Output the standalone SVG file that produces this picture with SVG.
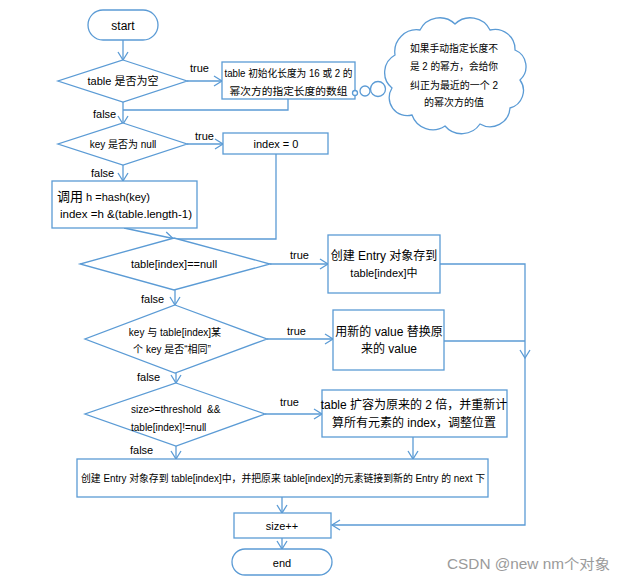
<svg xmlns="http://www.w3.org/2000/svg" width="625" height="581" viewBox="0 0 625 581">
<defs>
<style>
.n{fill:#fff;stroke:#5b9bd5;stroke-width:1.3}
.c{fill:none;stroke:#5b9bd5;stroke-width:1.3}
text{font-family:"Liberation Sans","Noto Sans CJK SC",sans-serif;fill:#000;font-size:11px}
.m{text-anchor:middle}
.l{font-size:11px}
</style>
<marker id="a" markerWidth="12" markerHeight="12" refX="10" refY="6" orient="auto" markerUnits="userSpaceOnUse">
<polyline points="2,1 10,6 2,11" fill="none" stroke="#5b9bd5" stroke-width="1.3"/>
</marker>
</defs>
<rect width="625" height="581" fill="#fff"/>
<g id="connectors">
<path class="c" d="M123,40 V60" marker-end="url(#a)"/>
<path class="c" d="M187,81 H222" marker-end="url(#a)"/>
<path class="c" d="M123,102 V124" marker-end="url(#a)"/>
<path class="c" d="M288,99 V110 H123"/>
<path class="c" d="M187,144 H223" marker-end="url(#a)"/>
<path class="c" d="M123,165 V181" marker-end="url(#a)"/>
<path class="c" d="M124,228 L173,238.5" marker-end="url(#a)"/>
<path class="c" d="M276,154 V239 H174"/>
<path class="c" d="M270,264 H328" marker-end="url(#a)"/>
<path class="c" d="M175,290 V305" marker-end="url(#a)"/>
<path class="c" d="M267,339 H333" marker-end="url(#a)"/>
<path class="c" d="M176,373 V383" marker-end="url(#a)"/>
<path class="c" d="M265,414 H322" marker-end="url(#a)"/>
<path class="c" d="M176,446 V459" marker-end="url(#a)"/>
<path class="c" d="M413,437 V459" marker-end="url(#a)"/>
<path class="c" d="M440,264 H525 V358" marker-end="url(#a)"/>
<path class="c" d="M444,341 H525"/>
<path class="c" d="M525,358 V525 H332" marker-end="url(#a)"/>
<path class="c" d="M282,497 V513" marker-end="url(#a)"/>
<path class="c" d="M282,538 V549" marker-end="url(#a)"/>
</g>
<g id="start"><rect class="n" x="88" y="10" width="70" height="30" rx="15"/><text class="m" x="123" y="30" style="font-size:12px">start</text></g>
<g id="d1"><polygon class="n" points="123,60 187,81 123,102 58,81"/><text class="m" x="123" y="85">table 是否为空</text></g>
<g id="l1"><text x="190" y="72">true</text><text x="93" y="118">false</text></g>
<g id="b1"><rect class="n" x="222" y="62" width="133" height="37"/><text class="m" x="288.5" y="77" style="font-size:10.5px" textLength="128" lengthAdjust="spacingAndGlyphs">table 初始化长度为 16 或 2 的</text><text class="m" x="288.5" y="95" style="font-size:10.5px" textLength="118" lengthAdjust="spacingAndGlyphs">幂次方的指定长度的数组</text></g>
<g id="cloud">
<circle class="n" cx="355" cy="93" r="2.5"/>
<circle class="n" cx="365" cy="91" r="5"/>
<circle class="n" cx="378" cy="89" r="7.5"/>
<path class="n" d="M392,88 A20,20 0 0 1 395,55 A22,22 0 0 1 420,30 A22,22 0 0 1 455,24 A22,22 0 0 1 490,30 A20,20 0 0 1 515,50 A18,18 0 0 1 520,80 A18,18 0 0 1 510,108 A20,20 0 0 1 480,124 A22,22 0 0 1 445,126 A22,22 0 0 1 412,115 A18,18 0 0 1 392,88 Z"/>
<text class="m" x="454" y="52" style="font-size:10.5px" textLength="88" lengthAdjust="spacingAndGlyphs">如果手动指定长度不</text>
<text class="m" x="454" y="70" style="font-size:10.5px" textLength="88" lengthAdjust="spacingAndGlyphs">是 2 的幂方，会给你</text>
<text class="m" x="454" y="89" style="font-size:10.5px" textLength="88" lengthAdjust="spacingAndGlyphs">纠正为最近的一个 2</text>
<text class="m" x="454" y="106" style="font-size:10.5px" textLength="60" lengthAdjust="spacingAndGlyphs">的幂次方的值</text>
</g>
<g id="d2"><polygon class="n" points="123,123 187,144 123,165 58,144"/><text class="m" x="123" y="148" style="font-size:10px">key 是否为 null</text></g>
<g id="l2"><text x="195" y="140">true</text><text x="91" y="177">false</text></g>
<g id="b2"><rect class="n" x="223" y="133" width="105" height="21"/><text class="m" x="276" y="148">index = 0</text></g>
<g id="b3"><rect class="n" x="52" y="181" width="145" height="47"/><text x="57" y="201"><tspan style="font-size:13px">调用</tspan> h =hash(key)</text><text x="60" y="218" style="font-size:11.5px">index =h &amp;(table.length-1)</text></g>
<g id="d4"><polygon class="n" points="174,238 270,264 174,290 80,264"/><text class="m" x="174" y="268">table[index]==null</text></g>
<g id="l4"><text x="290" y="259">true</text><text x="141" y="303">false</text></g>
<g id="b5"><rect class="n" x="328" y="235" width="112" height="58"/><text class="m" x="384" y="260" style="font-size:12px">创建 Entry 对象存到</text><text class="m" x="384" y="277">table[index]中</text></g>
<g id="d5"><polygon class="n" points="175,305 267,339 175,373 85,339"/><text class="m" x="175" y="336" style="font-size:10px">key 与 table[index]某</text><text class="m" x="172" y="353" style="font-size:10px">个 key 是否“相同”</text></g>
<g id="l5"><text x="287" y="335">true</text><text x="137" y="381">false</text></g>
<g id="b6"><rect class="n" x="333" y="310" width="111" height="60"/><text class="m" x="389" y="336" style="font-size:12px">用新的 value 替换原</text><text class="m" x="389" y="353" style="font-size:12px">来的 value</text></g>
<g id="d6"><polygon class="n" points="176,383 265,414 176,446 85,414"/><text x="131" y="413" style="font-size:10px">size&gt;=threshold<tspan x="207">&amp;&amp;</tspan></text><text x="131" y="431" style="font-size:10px">table[index]!=null</text></g>
<g id="l6"><text x="280" y="406">true</text><text x="130" y="454">false</text></g>
<g id="b7"><rect class="n" x="322" y="390" width="185" height="47"/><text class="m" x="414" y="409" style="font-size:12px">table 扩容为原来的 2 倍，并重新计</text><text class="m" x="414" y="427" style="font-size:12px">算所有元素的 index，调整位置</text></g>
<g id="b8"><rect class="n" x="77" y="459" width="411" height="38"/><text x="81" y="482" style="font-size:10px" textLength="404" lengthAdjust="spacingAndGlyphs">创建 Entry 对象存到 table[index]中，并把原来 table[index]的元素链接到新的 Entry 的 next 下</text></g>
<g id="size"><rect class="n" x="234" y="513" width="97" height="25"/><text class="m" x="282" y="530">size++</text></g>
<g id="end"><rect class="n" x="232" y="549" width="100" height="26" rx="13"/><text class="m" x="282" y="567">end</text></g>
<text x="447" y="569" style="font-size:14px;fill:#9a9a9a" textLength="163" lengthAdjust="spacingAndGlyphs">CSDN @new nm个对象</text>
</svg>
